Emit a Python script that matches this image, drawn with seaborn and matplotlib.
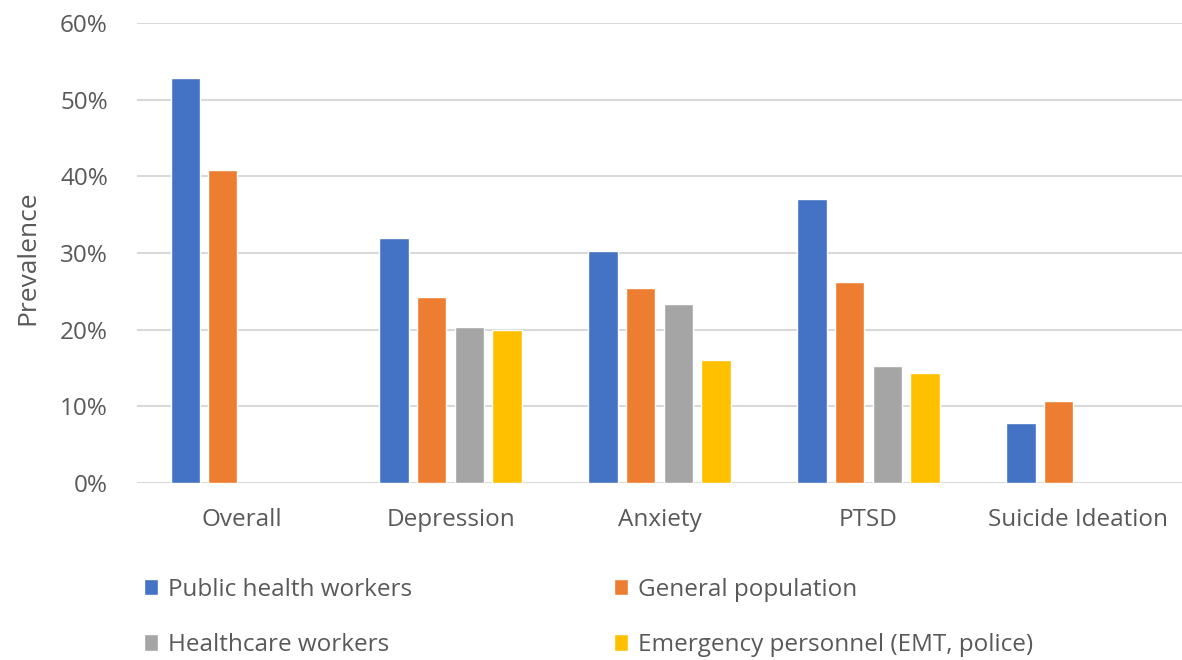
import pandas as pd
import matplotlib.pyplot as plt
import seaborn as sns
import numpy as np
from matplotlib.ticker import PercentFormatter

# values (percent)
categories = ['Overall', 'Depression', 'Anxiety', 'PTSD', 'Suicide Ideation']
groups = ['Public health workers', 'General population',
          'Healthcare workers', 'Emergency personnel (EMT, police)']
public_health = [52.9, 32.0, 30.3, 37.0, 7.9]
general_pop = [40.9, 24.3, 25.5, 26.2, 10.7]
healthcare = [np.nan, 20.4, 23.4, 15.3, np.nan]
emergency = [np.nan, 20.0, 16.1, 14.4, np.nan]
colors = ['#4472C4', '#ED7D31', '#A5A5A5', '#FFC000']

rows = []
for g, vals in zip(groups, [public_health, general_pop, healthcare, emergency]):
    for c, v in zip(categories, vals):
        rows.append({'category': c, 'group': g, 'value': v})
df = pd.DataFrame(rows)

sns.set_style('white')
plt.rcParams['font.family'] = ['Open Sans', 'DejaVu Sans']
txt = '#595959'

fig = plt.figure(figsize=(11.82, 6.6), dpi=100)
ax = fig.add_axes([0.116, 0.268, 0.884, 0.697])

sns.barplot(data=df, x='category', y='value', hue='group', order=categories,
            hue_order=groups, palette=colors, width=0.72, gap=0.22,
            saturation=1, ax=ax, legend=True)

ax.set_ylim(0, 60)
ax.set_xlim(-0.5, 4.5)
ax.set_yticks(np.arange(0, 61, 10))
ax.yaxis.set_major_formatter(PercentFormatter(decimals=0))
ax.grid(axis='y', color='#D9D9D9', linewidth=1.5)
ax.set_axisbelow(True)
for s in ax.spines.values():
    s.set_visible(False)
ax.tick_params(axis='both', length=0, labelsize=17.5, colors=txt)
ax.tick_params(axis='y', pad=21)
ax.tick_params(axis='x', pad=18)
ax.set_xlabel('')
ax.set_ylabel('Prevalence', fontsize=19, color=txt)
ax.yaxis.set_label_coords(-0.093, 0.49)

# legend: two columns, row-wise order like the original
handles, labels = ax.get_legend_handles_labels()
order = [0, 2, 1, 3]
ax.legend([handles[i] for i in order], [labels[i] for i in order],
          ncol=2, loc='upper left', bbox_to_anchor=(0.103, 0.158),
          bbox_transform=fig.transFigure, frameon=False, fontsize=17.5,
          labelcolor=txt, handlelength=0.6, handleheight=0.66,
          handletextpad=0.4, columnspacing=8.3, labelspacing=1.3)

plt.savefig('out.png', dpi=100)
